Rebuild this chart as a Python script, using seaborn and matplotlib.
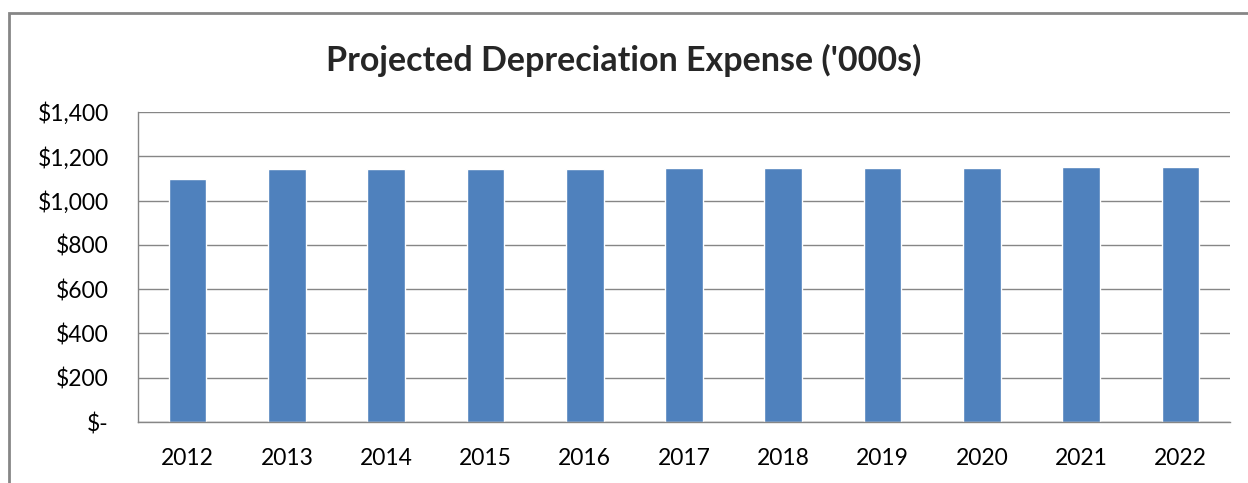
import matplotlib
matplotlib.use("Agg")
import matplotlib.pyplot as plt
import pandas as pd
import seaborn as sns
from matplotlib.patches import Rectangle
from matplotlib.ticker import FuncFormatter

years = ['2012', '2013', '2014', '2015', '2016', '2017', '2018', '2019', '2020', '2021', '2022']
expense = [1098, 1141, 1141, 1141, 1141, 1146, 1146, 1146, 1146, 1153, 1153]
title = "Projected Depreciation Expense ('000s)"

sns.set_style("white")
plt.rcParams['font.family'] = ['Lato', 'DejaVu Sans']

df = pd.DataFrame({'year': years, 'expense': expense})

fig = plt.figure(figsize=(12.48, 4.83), dpi=100)
ax = fig.add_axes([138 / 1248, 1 - 422 / 483, (1230 - 138) / 1248, (422 - 112) / 483])

sns.barplot(x='year', y='expense', data=df, color='#4F81BD', saturation=1, width=0.38, ax=ax)

ax.set_ylim(0, 1400)
ax.set_yticks(range(0, 1401, 200))
ax.yaxis.set_major_formatter(FuncFormatter(lambda v, p: '$-' if v == 0 else f'${v:,.0f}'))
ax.set_xlim(-0.5, len(years) - 0.5)
ax.grid(axis='y', color='#868686', linewidth=1)
ax.set_axisbelow(True)
ax.set_xlabel('')
ax.set_ylabel('')
for s in ['top', 'right']:
    ax.spines[s].set_visible(False)
for s in ['left', 'bottom']:
    ax.spines[s].set_color('#868686')
    ax.spines[s].set_linewidth(1)
ax.tick_params(axis='both', labelsize=16.5, colors='#868686', labelcolor='black', length=0)
ax.tick_params(axis='x', pad=19)
ax.tick_params(axis='y', pad=21)

fig.text(0.5, 1 - 60 / 483, title, ha='center', va='center', fontsize=24.5, fontweight='bold')

# outer chart frame
fig.patches.append(Rectangle((9 / 1248, -0.1), 1.2, 1 - 13 / 483 + 0.1, transform=fig.transFigure,
                             fill=False, edgecolor='#868686', linewidth=2))

fig.savefig('out.png', dpi=100)
